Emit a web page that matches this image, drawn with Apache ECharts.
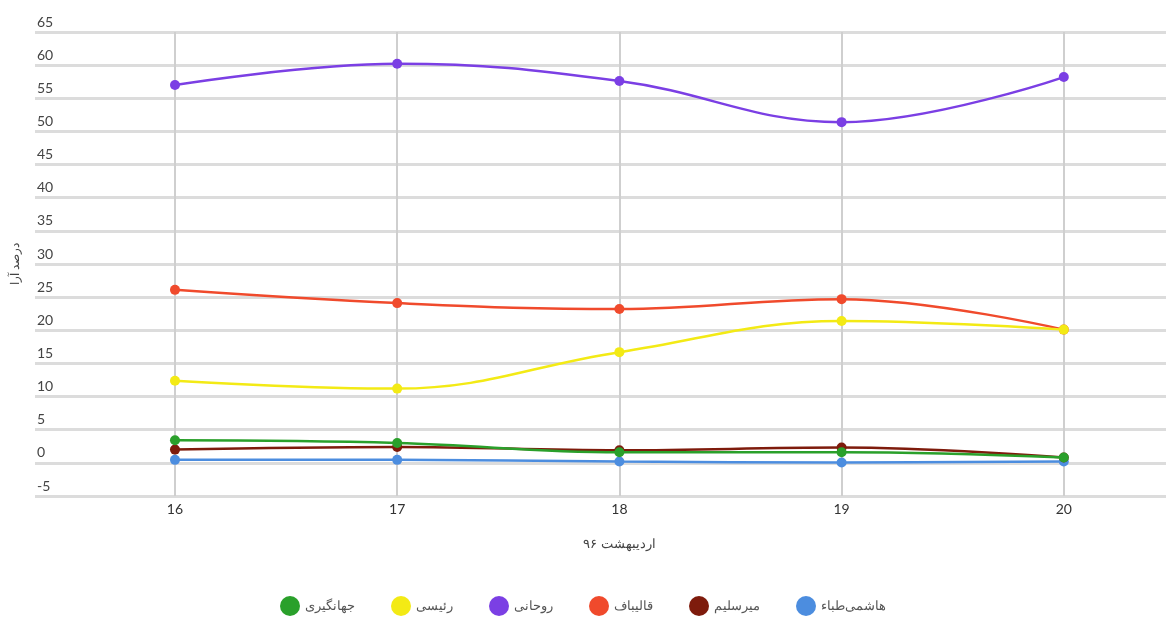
<!DOCTYPE html>
<html>
<head>
<meta charset="utf-8">
<script src="https://cdn.jsdelivr.net/npm/echarts@6/dist/echarts.min.js"></script>
<style>
  html, body { margin: 0; padding: 0; background: #fff; }
  #chart { width: 1166px; height: 618px; }
</style>
</head>
<body>
<div id="chart"></div>
<script>
// روزها (اردیبهشت ۹۶)
var days = [16, 17, 18, 19, 20];

var jahangiri = [3.4, 3.0, 1.6, 1.6, 0.8];
var raisi = [12.4, 11.2, 16.7, 21.4, 20.1];
var rouhani = [57.0, 60.2, 57.6, 51.4, 58.2];
var ghalibaf = [26.1, 24.1, 23.2, 24.7, 20.1];
var mirsalim = [2.0, 2.4, 1.9, 2.3, 0.8];
var hashemitaba = [0.45, 0.45, 0.2, 0.05, 0.2];

var names = ['جهانگیری', 'رئیسی', 'روحانی', 'قالیباف', 'میرسلیم', 'هاشمی‌طباء'];
var colors = ['#2aa02b', '#f3ea15', '#7b3fe4', '#f04a2c', '#7e1b0c', '#4c8ddf'];
var values = [jahangiri, raisi, rouhani, ghalibaf, mirsalim, hashemitaba];

var font = 'Lato, "Noto Sans", sans-serif';

var chart = echarts.init(document.getElementById('chart'));

var series = values.map(function (vals, i) {
  return {
    name: names[i],
    type: 'line',
    smooth: 0.4,
    symbol: 'circle',
    symbolSize: 10,
    showSymbol: true,
    data: days.map(function (d, j) { return [d, vals[j]]; }),
    lineStyle: { width: 2.5, color: colors[i] },
    itemStyle: { color: colors[i] },
    z: 10 - i
  };
});

chart.setOption({
  animation: false,
  color: colors,
  grid: { left: 35, right: 0, top: 32, bottom: 122, containLabel: false },
  legend: {
    top: 591,
    left: 'center',
    icon: 'circle',
    itemWidth: 20,
    itemHeight: 20,
    itemGap: 36,
    textStyle: { color: '#555', fontSize: 13, fontFamily: font },
    data: names
  },
  xAxis: {
    type: 'value',
    min: 15.37,
    max: 20.46,
    name: 'اردیبهشت ۹۶',
    nameLocation: 'middle',
    nameGap: 41,
    nameTextStyle: { color: '#444', fontSize: 13, fontFamily: font, padding: [0, 0, 0, 38] },
    axisLine: { show: false },
    axisTick: { show: true, customValues: days, length: 0 },
    axisLabel: { customValues: days, color: '#333', fontSize: 14, fontFamily: font, margin: 6 },
    splitLine: { show: true, lineStyle: { color: '#cfcfcf', width: 2 } }
  },
  yAxis: {
    type: 'value',
    min: -5,
    max: 65,
    interval: 5,
    name: 'درصد آرا',
    nameLocation: 'middle',
    nameGap: 14,
    nameTextStyle: { color: '#444', fontSize: 12, fontFamily: font },
    axisLine: { show: false },
    axisTick: { show: false },
    axisLabel: {
      inside: true,
      margin: 2,
      verticalAlign: 'bottom',
      color: '#444',
      fontSize: 14,
      fontFamily: font,
      padding: [0, 0, 3, 0]
    },
    splitLine: { show: true, lineStyle: { color: '#dcdcdc', width: 3 } }
  },
  series: series
});
</script>
</body>
</html>
